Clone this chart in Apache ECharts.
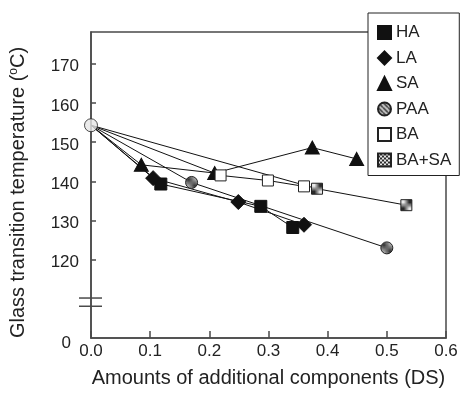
<!DOCTYPE html>
<html><head><meta charset="utf-8">
<script src="https://cdn.jsdelivr.net/npm/echarts@6/dist/echarts.min.js"></script>
<style>html,body{margin:0;padding:0;background:#fff}#c{width:461px;height:393px}</style>
</head><body><div id="c"></div>
<script>
// ---- data ----
const originPoint = [0, 154.3];
const HA_x = [0.118, 0.287, 0.341];
const HA_y = [139.3, 133.6, 128.2];
const LA_x = [0.105, 0.249, 0.360];
const LA_y = [140.8, 134.7, 128.9];
const SA_x = [0.085, 0.209, 0.374, 0.449];
const SA_y = [144.2, 142.1, 148.6, 145.7];
const PAA_x = [0.170, 0.500];
const PAA_y = [139.7, 123.0];
const BA_x = [0.219, 0.299, 0.360];
const BA_y = [141.5, 140.2, 138.7];
const BASA_x = [0.382, 0.533];
const BASA_y = [138.1, 133.9];
const xTicks = [0, 0.1, 0.2, 0.3, 0.4, 0.5, 0.6];
const yTickValues = [120, 130, 140, 150, 160, 170];
const yBreakBase = 100; // value shown as "0" at the bottom of the broken axis
const seriesNames = ['HA', 'LA', 'SA', 'PAA', 'BA', 'BA+SA'];

// ---- patterns ----
function stripePattern() {
  const c = document.createElement('canvas'); c.width = 5; c.height = 5;
  const g = c.getContext('2d');
  g.fillStyle = '#c4c4c4'; g.fillRect(0, 0, 5, 5);
  g.strokeStyle = '#333'; g.lineWidth = 1.4;
  for (let o = -5; o <= 10; o += 5) { g.beginPath(); g.moveTo(o, 0); g.lineTo(o + 5, 5); g.stroke(); }
  return { image: c, repeat: 'repeat' };
}
function checkerPattern() {
  const c = document.createElement('canvas'); c.width = 4; c.height = 4;
  const g = c.getContext('2d');
  g.fillStyle = '#2a2a2a'; g.fillRect(0, 0, 4, 4);
  g.fillStyle = '#e8e8e8'; g.fillRect(0, 0, 2, 2); g.fillRect(2, 2, 2, 2);
  return { image: c, repeat: 'repeat' };
}

function build(xs, ys) {
  const d = [{ value: originPoint.slice(), symbol: 'none' }];
  xs.forEach((x, i) => d.push([x, ys[i]]));
  return d;
}

const FONT = 'Liberation Sans, Arial, Helvetica, sans-serif';
const lineStyle = { color: '#111', width: 1 };

const styles = {
  'HA':    { symbol: 'rect', size: 12, item: { color: '#111', borderColor: '#111', borderWidth: 1 } },
  'LA':    { symbol: 'diamond', size: 15, item: { color: '#111', borderColor: '#111', borderWidth: 1 } },
  'SA':    { symbol: 'triangle', size: [14, 13], item: { color: '#111', borderColor: '#111', borderWidth: 1 } },
  'PAA':   { symbol: 'circle', size: 12, item: { color: stripePattern(), borderColor: '#222', borderWidth: 1 } },
  'BA':    { symbol: 'rect', size: 11, item: { color: '#fff', borderColor: '#222', borderWidth: 1 } },
  'BA+SA': { symbol: 'rect', size: 11, item: { color: checkerPattern(), borderColor: '#222', borderWidth: 1 } }
};
const dataMap = {
  'HA': [HA_x, HA_y], 'LA': [LA_x, LA_y], 'SA': [SA_x, SA_y],
  'PAA': [PAA_x, PAA_y], 'BA': [BA_x, BA_y], 'BA+SA': [BASA_x, BASA_y]
};

const series = seriesNames.map(n => ({
  name: n, type: 'line', data: build(dataMap[n][0], dataMap[n][1]),
  symbol: styles[n].symbol, symbolSize: styles[n].size,
  itemStyle: styles[n].item, lineStyle: lineStyle,
  showAllSymbol: true, animation: false, z: 3
}));
series.push({
  name: 'origin', type: 'scatter', data: [originPoint], symbol: 'circle', symbolSize: 13,
  itemStyle: { color: '#e6e6e6', borderColor: '#222', borderWidth: 1 }, z: 5, animation: false
});

const legendIcons = { 'HA': 'rect', 'LA': 'diamond', 'SA': 'triangle', 'PAA': 'circle', 'BA': 'rect', 'BA+SA': 'rect' };

const chart = echarts.init(document.getElementById('c'), null, { renderer: 'canvas' });
chart.setOption({
  animation: false,
  backgroundColor: '#fff',
  textStyle: { fontFamily: FONT },
  grid: { left: 89, right: 15, top: 32, bottom: 54, show: true, borderColor: '#4a4a4a', borderWidth: 1.5, backgroundColor: 'transparent' },
  legend: {
    orient: 'vertical', left: 368, top: 13,
    padding: [11, 8, 7, 9], itemGap: 8.5, itemWidth: 13, itemHeight: 13,
    backgroundColor: '#fff', borderColor: '#222', borderWidth: 1,
    textStyle: { fontSize: 17, color: '#222', fontFamily: FONT },
    data: seriesNames.map(n => ({ name: n, icon: legendIcons[n] })),
    selectedMode: false, z: 10
  },
  xAxis: {
    type: 'value', min: 0, max: 0.6, interval: 0.1,
    name: 'Amounts of additional components (DS)', nameLocation: 'middle', nameGap: 30,
    nameTextStyle: { fontSize: 20, color: '#222', fontFamily: FONT },
    axisLine: { show: true, lineStyle: { color: '#4a4a4a', width: 1.5 } },
    axisTick: { show: true, inside: true, length: 7, lineStyle: { color: '#4a4a4a', width: 1.5 } },
    axisLabel: { fontSize: 17, color: '#222', margin: 5, formatter: v => v.toFixed(1), customValues: xTicks },
    splitLine: { show: false }
  },
  yAxis: {
    type: 'value', min: yBreakBase, max: 178.1,
    name: 'Glass transition temperature ({sup|o}C)', nameLocation: 'middle', nameGap: 62,
    nameTextStyle: { fontSize: 20, color: '#222', fontFamily: FONT, padding: [0, 15, 0, 0],
      rich: { sup: { fontSize: 12, color: '#222', padding: [0, 0, 9, 0], fontFamily: FONT } } },
    axisLine: { show: true, lineStyle: { color: '#4a4a4a', width: 1.5 } },
    axisTick: { show: true, inside: true, length: 5, customValues: yTickValues, lineStyle: { color: '#4a4a4a', width: 1.5 } },
    axisLabel: { fontSize: 17, color: '#222', margin: 12, padding: [6, 0, 0, 0],
      customValues: [yBreakBase].concat(yTickValues),
      formatter: v => (v === yBreakBase ? '{z|0}' : String(v)),
      rich: { z: { fontSize: 17, color: '#222', fontFamily: FONT, padding: [4, 8, 0, 0] } } },
    splitLine: { show: false }
  },
  series: series
});

// axis-break marks on the y axis
const p1 = chart.convertToPixel({ gridIndex: 0 }, [0, 110.2]);
const p2 = chart.convertToPixel({ gridIndex: 0 }, [0, 108.1]);
chart.setOption({
  graphic: [
    { type: 'line', shape: { x1: p1[0] - 12, y1: p1[1], x2: p1[0] + 11, y2: p1[1] }, style: { stroke: '#4a4a4a', lineWidth: 1.5 }, z: 10 },
    { type: 'line', shape: { x1: p2[0] - 12, y1: p2[1], x2: p2[0] + 11, y2: p2[1] }, style: { stroke: '#4a4a4a', lineWidth: 1.5 }, z: 10 }
  ]
});
</script>
</body></html>
